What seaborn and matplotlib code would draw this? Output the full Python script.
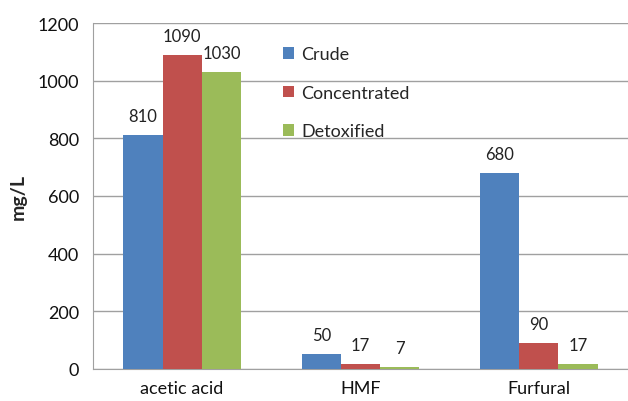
import matplotlib
matplotlib.use("Agg")
import matplotlib.pyplot as plt
import numpy as np
import pandas as pd
import seaborn as sns

categories = ["acetic acid", "HMF", "Furfural"]
crude = [810, 50, 680]
concentrated = [1090, 17, 90]
detoxified = [1030, 7, 17]
series = ["Crude", "Concentrated", "Detoxified"]
colors = ["#4F81BD", "#C0504D", "#9BBB59"]

df = pd.DataFrame({
    "compound": categories * 3,
    "sample": [s for s in series for _ in categories],
    "value": crude + concentrated + detoxified,
})

sns.set_style("white")
plt.rcParams["font.family"] = ["Lato", "DejaVu Sans"]

fig = plt.figure(figsize=(6.28, 4.02), dpi=100)
ax = fig.add_axes([0.148, 0.08, 0.852, 0.86])

sns.barplot(data=df, x="compound", y="value", hue="sample", order=categories,
            hue_order=series, palette=colors, width=0.66, saturation=1,
            edgecolor="none", ax=ax, zorder=3)

for cont in ax.containers:
    ax.bar_label(cont, padding=8, fontsize=12, color="#222222")

ax.set_ylim(0, 1200)
ax.set_yticks(np.arange(0, 1201, 200))
ax.set_xlim(-0.5, 2.5)
ax.yaxis.grid(True, color="#a0a0a0", linewidth=1, zorder=0)
ax.set_axisbelow(True)

ax.set_xlabel("")
ax.set_ylabel("mg/L", fontsize=14, fontweight="bold", labelpad=8)
ax.tick_params(axis="y", length=0, labelsize=13, pad=10, labelcolor="#111111")
ax.tick_params(axis="x", length=0, labelsize=13, pad=8, labelcolor="#111111")
# category divider ticks on the x axis
ax.set_xticks([0.5, 1.5], minor=True)
ax.tick_params(axis="x", which="minor", length=6, color="#a0a0a0")

for side in ["top", "right"]:
    ax.spines[side].set_visible(False)
for side in ["left", "bottom"]:
    ax.spines[side].set_color("#a0a0a0")

ax.legend(loc="upper left", bbox_to_anchor=(0.325, 0.98), frameon=False,
          fontsize=13, handlelength=0.6, handleheight=0.6, handletextpad=0.4,
          labelspacing=1.25, title=None)

fig.savefig("out.png", dpi=100)
